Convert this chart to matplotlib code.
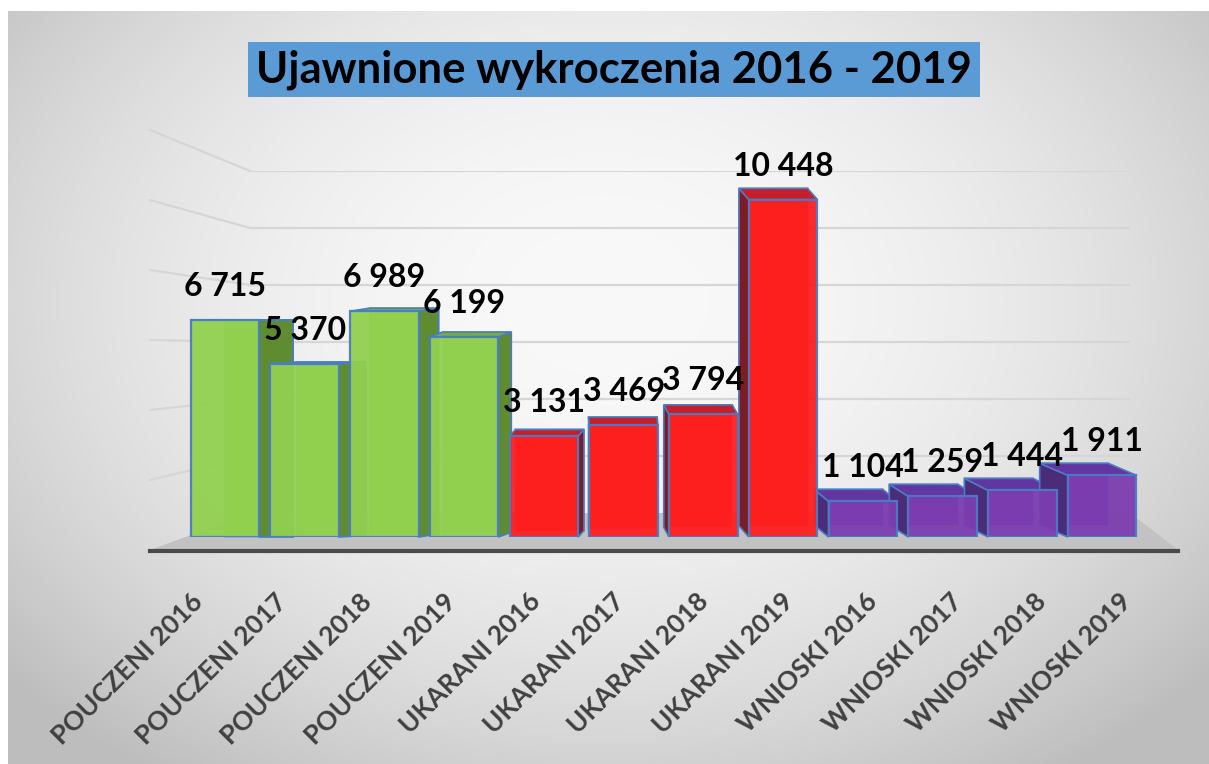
import numpy as np
import matplotlib
matplotlib.use("Agg")
import matplotlib.pyplot as plt
from matplotlib.patches import Polygon, Rectangle
from matplotlib.lines import Line2D
import matplotlib.transforms as mtrans
from matplotlib.colors import to_rgba

# ---------------- data ----------------
categories = ["POUCZENI 2016", "POUCZENI 2017", "POUCZENI 2018", "POUCZENI 2019",
              "UKARANI 2016", "UKARANI 2017", "UKARANI 2018", "UKARANI 2019",
              "WNIOSKI 2016", "WNIOSKI 2017", "WNIOSKI 2018", "WNIOSKI 2019"]
groups = ["POUCZENI"] * 4 + ["UKARANI"] * 4 + ["WNIOSKI"] * 4
values = [6715, 5370, 6989, 6199, 3131, 3469, 3794, 10448, 1104, 1259, 1444, 1911]
value_labels = ["6 715", "5 370", "6 989", "6 199", "3 131", "3 469", "3 794",
                "10 448", "1 104", "1 259", "1 444", "1 911"]
grid_values = [2000, 4000, 6000, 8000, 10000, 12000]
title = "Ujawnione wykroczenia 2016 - 2019"

# ---------------- style ----------------
STYLE = {
    "POUCZENI": dict(front="#92D050", back="#88C44A", side="#5F8C31", top="#78AD3E"),
    "UKARANI": dict(front="#FF1F1F", back="#EC1C1C", side="#7E1C26", top="#C41F2A"),
    "WNIOSKI": dict(front="#7C3DB0", back="#7038A4", side="#4B2C78", top="#6236A0"),
}
EDGE = "#4A7CC4"
FONT = "Lato"

W, H = 1209, 764
fig = plt.figure(figsize=(W / 100, H / 100), dpi=100)
fig.patch.set_facecolor("white")


def fr(l, t, r, b):
    """pixel box (from top-left) -> figure fraction rect"""
    return [l / W, 1 - b / H, (r - l) / W, (b - t) / H]


# background gradient
bg = fig.add_axes(fr(8, 11, W, H), zorder=-3)
yy, xx = np.mgrid[11:H, 8:W]
r2 = ((xx - 605) / 650.0) ** 2 + ((yy - 300) / 470.0) ** 2
shade = np.clip(249 - 40 * r2, 190, 250) / 255.0
bg.imshow(np.dstack([shade] * 3), aspect="auto", extent=(0, 1, 0, 1))
bg.set_axis_off()

# back wall (grid) axes
wall = fig.add_axes(fr(250, 171, 1130, 513), zorder=-2)
wall.set_xlim(0, 1)
wall.set_ylim(0, 12000)
wall.set_axis_off()
# left front edge of the chart "box"
lf = fig.add_axes(fr(150, 130, 151, 550), zorder=-2)
lf.set_ylim(0, 12000)
lf.set_axis_off()

fig.canvas.draw()
ident = mtrans.IdentityTransform()
for v in grid_values:
    wall.axhline(v, color="#D6D6D6", lw=1.6, zorder=1)
    p_back = wall.transData.transform((0, v))
    p_front = lf.transData.transform((0, v))
    wall.add_line(Line2D([p_front[0], p_back[0]], [p_front[1], p_back[1]],
                         transform=ident, color="#D6D6D6", lw=1.6, clip_on=False))

# floor
fl0 = lf.transData.transform((0, 0))
wb0 = wall.transData.transform((0, 0))
wb1 = wall.transData.transform((1, 0))
front_right = (1178, fl0[1])
floor = Polygon([fl0, front_right, wb1, wb0], closed=True, transform=ident,
                facecolor="#C2C2C2", edgecolor="none", clip_on=False, zorder=2)
wall.add_patch(floor)
wall.add_line(Line2D([fl0[0], front_right[0]], [fl0[1] - 1, fl0[1] - 1], transform=ident,
                     color="#4A4A4A", lw=3, clip_on=False, zorder=3))

# main bar axes
n = len(values)
ax = fig.add_axes(fr(185.15, 537 - 12000 * 0.0323, 1141.85, 537), zorder=1)
ax.set_xlim(-0.5, n - 0.5)
ax.set_ylim(0, 12000)
ax.set_axis_off()
x = np.arange(n)
bw = 0.86
fig.canvas.draw()


def depth(xc):
    if xc < 610:
        dx = 0.088 * (610 - xc)
    else:
        dx = 0.057 * (610 - xc)
    dy = float(np.clip(0.02 * (xc - 225), 0, 12))
    return dx, dy


inner_edge = to_rgba(EDGE, 0.35)
# back / side / top faces first
for i in range(n):
    st = STYLE[groups[i]]
    (x0, y0) = ax.transData.transform((x[i] - bw / 2, 0))
    (x1, y1) = ax.transData.transform((x[i] + bw / 2, values[i]))
    dx, dy = depth((x0 + x1) / 2)
    back = Polygon([(x0 + dx, y0 + dy), (x1 + dx, y0 + dy), (x1 + dx, y1 + dy), (x0 + dx, y1 + dy)],
                   transform=ident, facecolor=st["back"], edgecolor=inner_edge, lw=1.2,
                   clip_on=False, zorder=2)
    ax.add_patch(back)
    if dx > 0:
        side = [(x1, y0), (x1, y1), (x1 + dx, y1 + dy), (x1 + dx, y0 + dy)]
    else:
        side = [(x0, y0), (x0, y1), (x0 + dx, y1 + dy), (x0 + dx, y0 + dy)]
    ax.add_patch(Polygon(side, transform=ident, facecolor=st["side"], edgecolor=EDGE,
                         lw=1.2, clip_on=False, zorder=3))
    top = [(x0, y1), (x1, y1), (x1 + dx, y1 + dy), (x0 + dx, y1 + dy)]
    ax.add_patch(Polygon(top, transform=ident, facecolor=st["top"], edgecolor=EDGE,
                         lw=1.2, clip_on=False, zorder=3))

# front faces
ax.bar(x, values, width=bw, color=[STYLE[g]["front"] for g in groups],
       edgecolor=EDGE, linewidth=1.6, alpha=0.95, zorder=5)

# value labels
for i in range(n):
    ax.annotate(value_labels[i], xy=(x[i], values[i]), xytext=(0, 24),
                textcoords="offset pixels", ha="center", va="baseline",
                fontsize=23, fontweight="bold", family=FONT, color="black",
                zorder=10, annotation_clip=False)

# category labels (along the floor's front edge)
lab = fig.add_axes(fr(190 - 42.2, 589, 190 - 42.2 + 84.4 * n, 590), zorder=4)
lab.set_xlim(-0.5, n - 0.5)
lab.set_ylim(0, 1)
lab.set_axis_off()
for i in range(n):
    lab.text(x[i], 1, categories[i], rotation=45, rotation_mode="anchor",
             ha="right", va="top", fontsize=19, fontweight="bold", family=FONT,
             color="#404040", clip_on=False)

# title box
fig.add_artist(Rectangle((248 / W, 1 - 97 / H), (980 - 248) / W, 55 / H,
                         transform=fig.transFigure, facecolor="#5B9BD5",
                         edgecolor="none", zorder=6))
t = fig.text(614 / W, 1 - 70 / H, title, ha="center", va="center", fontsize=30,
             fontweight="bold", family=FONT, color="black", zorder=7)
r = fig.canvas.get_renderer()
w = t.get_window_extent(r).width
t.set_fontsize(30 * 715 / w)

fig.savefig("out.png", dpi=100)
